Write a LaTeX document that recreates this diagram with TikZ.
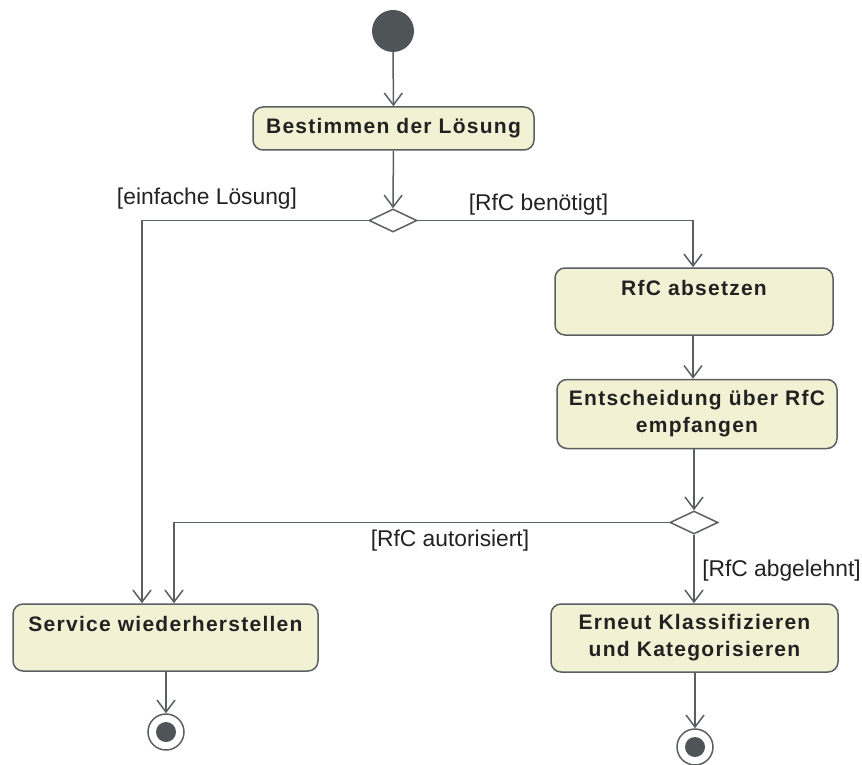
\documentclass[tikz,border=0pt]{standalone}
\usepackage{fontspec}
\setmainfont{Liberation Sans}
\newfontfamily\boxfont[LetterSpace=6]{Liberation Sans}
\usetikzlibrary{arrows.meta,shapes.geometric}
\definecolor{linegray}{HTML}{5A6062}
\definecolor{boxfill}{HTML}{F3F1D3}
\definecolor{dotgray}{HTML}{4F5557}
\definecolor{txt}{HTML}{222222}
\tikzset{
  action/.style={draw=linegray, line width=1.5pt, fill=boxfill, rounded corners=10pt,
    inner sep=0pt, align=center, text=txt,
    font=\boxfont\fontsize{21}{27}\selectfont\bfseries},
  decision/.style={diamond, draw=linegray, line width=1.5pt, fill=white, inner sep=0pt,
    minimum width=48pt, minimum height=23pt, aspect=2},
  flow/.style={draw=linegray, line width=1.5pt, -{Straight Barb[length=12pt,width=18pt,line width=1.5pt]}},
  guard/.style={font=\fontsize{22.8}{26}\selectfont, text=txt, inner sep=0pt},
}
\begin{document}
\begin{tikzpicture}[x=1pt,y=-1pt]
  \useasboundingbox (0,0) rectangle (862,765);

  % start node
  \node[circle, fill=dotgray, minimum size=42pt, inner sep=0pt] (start) at (393,31) {};

  % actions
  \node[action, minimum width=281pt, minimum height=43pt] (loesung) at (393.5,128.5) {Bestimmen der Lösung};
  \node[action, minimum width=278pt, minimum height=67pt] (absetzen) at (694,301.5) {RfC absetzen\\\phantom{X}};
  \node[action, minimum width=280pt, minimum height=69pt] (entscheidung) at (697,414) {Entscheidung über RfC\\empfangen};
  \node[action, minimum width=305pt, minimum height=67pt] (service) at (165.5,637.5) {Service wiederherstellen\\\phantom{X}};
  \node[action, minimum width=287pt, minimum height=68pt] (erneut) at (694.5,638) {Erneut Klassifizieren\\und Kategorisieren};

  % decisions
  \node[decision] (d1) at (393,220.5) {};
  \node[decision] (d2) at (694,522.5) {};

  % final nodes
  \node[circle, draw=linegray, line width=1.5pt, fill=white, minimum size=36pt, inner sep=0pt] (end1) at (166,732) {};
  \node[circle, fill=dotgray, minimum size=20pt, inner sep=0pt] at (end1) {};
  \node[circle, draw=linegray, line width=1.5pt, fill=white, minimum size=36pt, inner sep=0pt] (end2) at (695,747) {};
  \node[circle, fill=dotgray, minimum size=20pt, inner sep=0pt] at (end2) {};

  % turning points of the branches
  \coordinate (cl) at (142,220.5);
  \coordinate (cr) at (693,220.5);
  \coordinate (ca) at (174,522.5);

  % flows
  \draw[flow] (start) -- (loesung);
  \draw[flow] (loesung) -- (d1);
  \draw[flow] (d1.west) -- (cl) -- (cl |- service.north);
  \draw[flow] (d1.east) -- (cr) -- (cr |- absetzen.north);
  \draw[flow] (cr |- absetzen.south) -- (cr |- entscheidung.north);
  \draw[flow] (d2 |- entscheidung.south) -- (d2);
  \draw[flow] (d2.west) -- (ca) -- (ca |- service.north);
  \draw[flow] (d2.south) -- (d2 |- erneut.north);
  \draw[flow] (end1 |- service.south) -- (end1);
  \draw[flow] (end2 |- erneut.south) -- (end2);

  % guards
  \node[guard] (g1) at (207,199) {[einfache Lösung]};
  \node[guard] (g2) at (538.5,205) {[RfC benötigt]};
  \node[guard] (g3) at (450,541) {[RfC autorisiert]};
  \node[guard] (g4) at (781.5,571) {[RfC abgelehnt]};
\end{tikzpicture}
\end{document}
